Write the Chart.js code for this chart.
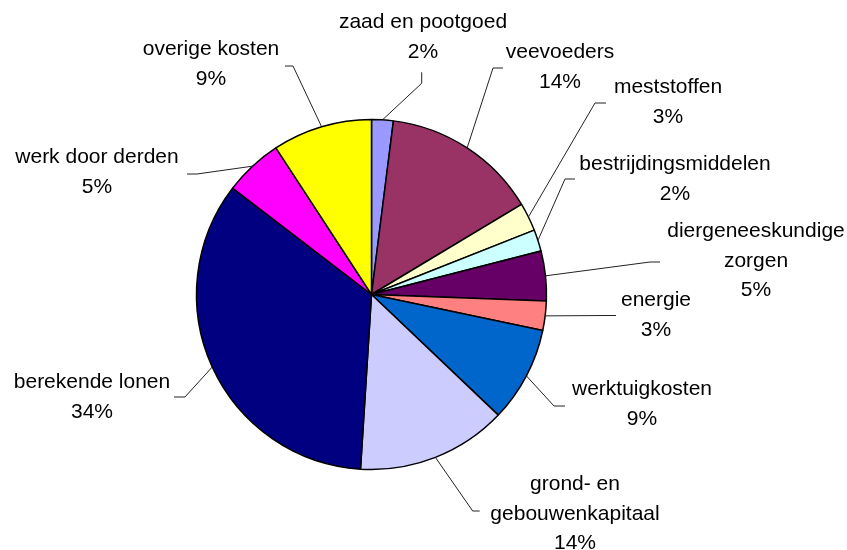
<!DOCTYPE html>
<html>
<head>
<meta charset="utf-8">
<script src="https://cdn.jsdelivr.net/npm/chart.js@4.4.0/dist/chart.umd.min.js"></script>
<style>
  body { margin: 0; background: #fff; }
  #wrap { width: 847px; height: 550px; }
</style>
</head>
<body>
<div id="wrap"><canvas id="chart"></canvas></div>
<script>
const categories = [
  ['zaad en pootgoed'],
  ['veevoeders'],
  ['meststoffen'],
  ['bestrijdingsmiddelen'],
  ['diergeneeskundige', 'zorgen'],
  ['energie'],
  ['werktuigkosten'],
  ['grond- en', 'gebouwenkapitaal'],
  ['berekende lonen'],
  ['werk door derden'],
  ['overige kosten']
];
const shares = [2.0, 14.4, 2.6, 2.0, 4.6, 2.7, 8.8, 13.9, 34.4, 5.4, 9.2];
const colors = ['#9999FF', '#993366', '#FFFFCC', '#CCFFFF', '#660066', '#FF8080',
  '#0066CC', '#CCCCFF', '#000080', '#FF00FF', '#FFFF00'];

// label placement, relative to the pie centre (text centre x, first baseline y)
const labelPos = [
  [51.5, -266.5], [188.5, -236.5], [296.5, -201.5], [303.5, -124.5],
  [384.5, -57.5], [284.5, 11.5], [270.5, 100.5], [203.5, 195.5],
  [-279.5, 93.5], [-274.5, -131.5], [-160.5, -239.5]
];
// leader line elbow, and the short tail after it
const leaderPos = [
  [50.2, -211.2], [121.5, -226.5], [223.5, -191.5], [193.5, -115.5],
  [278.5, -32.5], [234.5, 21], [182.5, 111.5], [101.2, 216.5],
  [-186.5, 102.5], [-174.5, -120.5], [-78.5, -228.5]
];
const leaderTail = [
  [0, -11], [10, 0], [11, 0], [10, 0], [10, 0], [10, 0],
  [11, 0], [7, 0], [-11, 0], [-10, 0], [-8, 0]
];

const total = shares.reduce((a, b) => a + b, 0);

const pieLabels = {
  id: 'pieLabels',
  afterDatasetsDraw(chart) {
    const ctx = chart.ctx;
    const arcs = chart.getDatasetMeta(0).data;
    ctx.save();
    arcs.forEach((arc, i) => {
      const p = arc.getProps(['x', 'y', 'startAngle', 'endAngle', 'outerRadius'], true);
      const mid = (p.startAngle + p.endAngle) / 2;
      const sx = p.x + Math.cos(mid) * p.outerRadius;
      const sy = p.y + Math.sin(mid) * p.outerRadius;
      const ex = p.x + leaderPos[i][0];
      const ey = p.y + leaderPos[i][1];

      ctx.strokeStyle = '#222';
      ctx.lineWidth = 1;
      ctx.beginPath();
      ctx.moveTo(sx, sy);
      ctx.lineTo(ex, ey);
      ctx.lineTo(ex + leaderTail[i][0], ey + leaderTail[i][1]);
      ctx.stroke();

      const lines = categories[i].concat([Math.round(shares[i] / total * 100) + '%']);
      ctx.fillStyle = '#000';
      ctx.font = '21px "Liberation Sans", Arial, sans-serif';
      ctx.textAlign = 'center';
      ctx.textBaseline = 'alphabetic';
      lines.forEach((t, k) => {
        ctx.fillText(t, p.x + labelPos[i][0], p.y + labelPos[i][1] + k * 29.5);
      });
    });
    ctx.restore();
  }
};

new Chart(document.getElementById('chart'), {
  type: 'pie',
  data: {
    labels: categories.map(c => c.join(' ')),
    datasets: [{
      data: shares,
      backgroundColor: colors,
      borderColor: '#000',
      borderWidth: 1.5
    }]
  },
  options: {
    responsive: true,
    maintainAspectRatio: false,
    animation: false,
    layout: {
      padding: { left: 195.75, right: 299.75, top: 118.75, bottom: 79.75 }
    },
    plugins: {
      legend: { display: false },
      tooltip: { enabled: false }
    }
  },
  plugins: [pieLabels]
});
</script>
</body>
</html>
